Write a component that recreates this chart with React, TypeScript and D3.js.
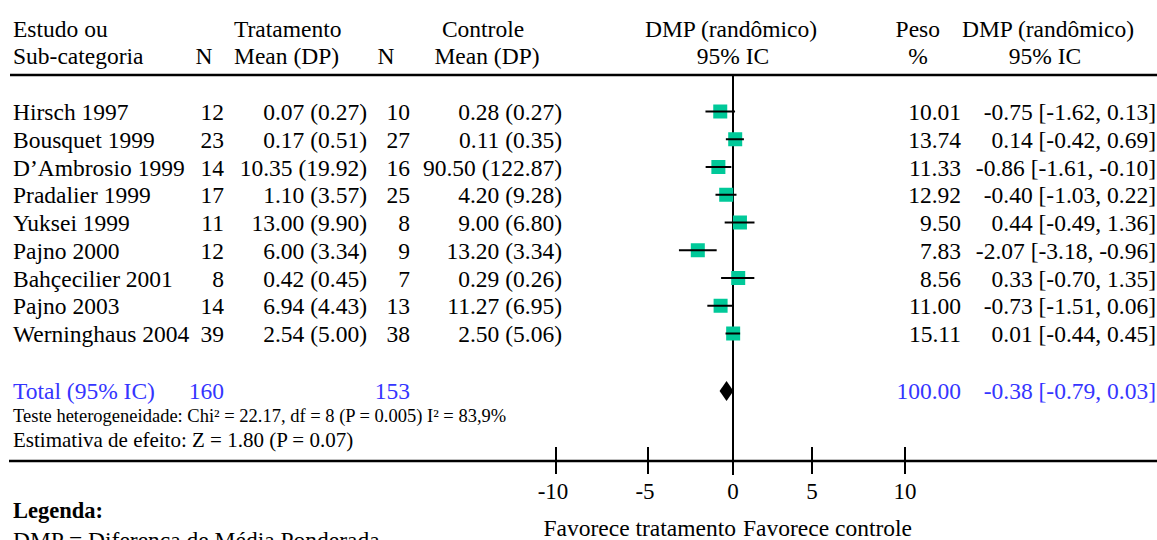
import React, { useEffect, useRef } from "react";
import * as d3 from "d3";

// dados do forest plot (DMP randômico)
const studies = [
  "Hirsch 1997",
  "Bousquet 1999",
  "D\u2019Ambrosio 1999",
  "Pradalier 1999",
  "Yuksei 1999",
  "Pajno 2000",
  "Bahçecilier 2001",
  "Pajno 2003",
  "Werninghaus 2004",
];
const nTrat = [12, 23, 14, 17, 11, 12, 8, 14, 39];
const meanTrat = [0.07, 0.17, 10.35, 1.1, 13.0, 6.0, 0.42, 6.94, 2.54];
const sdTrat = [0.27, 0.51, 19.92, 3.57, 9.9, 3.34, 0.45, 4.43, 5.0];
const nCtrl = [10, 27, 16, 25, 8, 9, 7, 13, 38];
const meanCtrl = [0.28, 0.11, 90.5, 4.2, 9.0, 13.2, 0.29, 11.27, 2.5];
const sdCtrl = [0.27, 0.35, 122.87, 9.28, 6.8, 3.34, 0.26, 6.95, 5.06];
const peso = [10.01, 13.74, 11.33, 12.92, 9.5, 7.83, 8.56, 11.0, 15.11];
const dmp = [-0.75, 0.14, -0.86, -0.4, 0.44, -2.07, 0.33, -0.73, 0.01];
const icLow = [-1.62, -0.42, -1.61, -1.03, -0.49, -3.18, -0.7, -1.51, -0.44];
const icHigh = [0.13, 0.69, -0.1, 0.22, 1.36, -0.96, 1.35, 0.06, 0.45];

const totalN = [160, 153];
const totalPeso = 100.0;
const totalDmp = [-0.38, -0.79, 0.03]; // estimativa, IC inferior, IC superior

const axisTicks = [-10, -5, 0, 5, 10];

const W = 1157;
const H = 540;
const FONT = "'Liberation Serif', 'Times New Roman', serif";
const BLUE = "#3535ff";
const GREEN = "#00c999";

const f2 = (v: number) => v.toFixed(2);

export default function App() {
  const ref = useRef<SVGSVGElement>(null);

  useEffect(() => {
    const svg = d3.select(ref.current);
    svg.selectAll("*").remove();

    // escala do eixo (o original nao e uniforme entre os ticks)
    const x = d3.scaleLinear().domain(axisTicks).range([556, 648, 733, 812, 905]);
    const y = d3.scalePoint<string>().domain(studies).range([111.5, 333.5]);
    const yTotal = 391;

    const g = svg.append("g").attr("font-family", FONT).attr("font-size", 23.5).attr("fill", "#000");

    const txt = (s: string, tx: number, ty: number, anchor = "start") =>
      g.append("text").attr("x", tx).attr("y", ty).attr("text-anchor", anchor).text(s);

    // cabecalho
    txt("Estudo ou", 13, 37);
    txt("Sub-categoria", 13, 64);
    txt("N", 204, 64, "middle");
    txt("Tratamento", 234, 37);
    txt("Mean (DP)", 234, 64);
    txt("N", 386, 64, "middle");
    txt("Controle", 483, 37, "middle");
    txt("Mean (DP)", 487, 64, "middle");
    txt("DMP (randômico)", 731, 37, "middle");
    txt("95% IC", 733, 64, "middle");
    txt("Peso", 940, 37, "end");
    txt("%", 918, 64, "middle");
    txt("DMP (randômico)", 1048, 37, "middle");
    txt("95% IC", 1045, 64, "middle");

    svg.append("line")
      .attr("x1", 10).attr("x2", W).attr("y1", 75).attr("y2", 75)
      .attr("stroke", "#000").attr("stroke-width", 2.5);

    // linhas da tabela
    studies.forEach((s, i) => {
      const by = (y(s) as number) + 8.5;
      txt(s, 13, by);
      txt(String(nTrat[i]), 224, by, "end");
      txt(`${f2(meanTrat[i])} (${f2(sdTrat[i])})`, 367, by, "end");
      txt(String(nCtrl[i]), 410, by, "end");
      txt(`${f2(meanCtrl[i])} (${f2(sdCtrl[i])})`, 562, by, "end");
      txt(f2(peso[i]), 961, by, "end");
      txt(`${f2(dmp[i])} [${f2(icLow[i])}, ${f2(icHigh[i])}]`, 1156, by, "end");
    });

    // total
    const tb = yTotal + 8;
    txt("Total (95% IC)", 13, tb).attr("fill", BLUE);
    txt(String(totalN[0]), 224, tb, "end").attr("fill", BLUE);
    txt(String(totalN[1]), 410, tb, "end").attr("fill", BLUE);
    txt(f2(totalPeso), 961, tb, "end").attr("fill", BLUE);
    txt(`${f2(totalDmp[0])} [${f2(totalDmp[1])}, ${f2(totalDmp[2])}]`, 1156, tb, "end").attr("fill", BLUE);

    txt("Teste heterogeneidade: Chi² = 22.17, df = 8 (P = 0.005) I² = 83,9%", 13, 422).attr("font-size", 18.5);
    txt("Estimativa de efeito: Z = 1.80 (P = 0.07)", 13, 447).attr("font-size", 21);

    // linha do zero
    svg.append("line")
      .attr("x1", x(0)).attr("x2", x(0)).attr("y1", 75).attr("y2", 475)
      .attr("stroke", "#000").attr("stroke-width", 2);

    // quadrados e IC
    svg.selectAll("rect.est")
      .data(dmp)
      .enter()
      .append("rect")
      .attr("class", "est")
      .attr("x", (d) => x(d) - 7)
      .attr("y", (d, i) => (y(studies[i]) as number) - 7)
      .attr("width", 14)
      .attr("height", 14)
      .attr("fill", GREEN);

    svg.selectAll("line.ci")
      .data(dmp)
      .enter()
      .append("line")
      .attr("class", "ci")
      .attr("x1", (d, i) => x(icLow[i]))
      .attr("x2", (d, i) => x(icHigh[i]))
      .attr("y1", (d, i) => y(studies[i]) as number)
      .attr("y2", (d, i) => y(studies[i]) as number)
      .attr("stroke", "#000")
      .attr("stroke-width", 2);

    // diamante do total
    const dia = [
      [x(totalDmp[1]), yTotal],
      [x(totalDmp[0]), yTotal - 10],
      [x(totalDmp[2]), yTotal],
      [x(totalDmp[0]), yTotal + 10],
    ] as [number, number][];
    svg.append("path").attr("d", d3.line()(dia) + "Z").attr("fill", "#000");

    // eixo inferior
    svg.append("line")
      .attr("x1", 9).attr("x2", W).attr("y1", 461).attr("y2", 461)
      .attr("stroke", "#000").attr("stroke-width", 2.5);

    svg.selectAll("line.tick")
      .data(axisTicks)
      .enter()
      .append("line")
      .attr("class", "tick")
      .attr("x1", (d) => x(d)).attr("x2", (d) => x(d))
      .attr("y1", 447).attr("y2", 474)
      .attr("stroke", "#000").attr("stroke-width", 2);

    axisTicks.forEach((t) => {
      txt(String(t), x(t) - (t < 0 ? 3 : 0), 499, "middle").attr("font-size", 23);
    });

    txt("Favorece tratamento", 736, 536, "end");
    txt("Favorece controle", 743, 536);

    txt("Legenda:", 13, 518).attr("font-weight", "bold").attr("font-size", 22.5);
    txt("DMP = Diferença de Média Ponderada", 13, 548);
  }, []);

  return (
    <svg
      ref={ref}
      width={W}
      height={H}
      style={{ position: "absolute", left: 0, top: 0, background: "#fff" }}
    />
  );
}
